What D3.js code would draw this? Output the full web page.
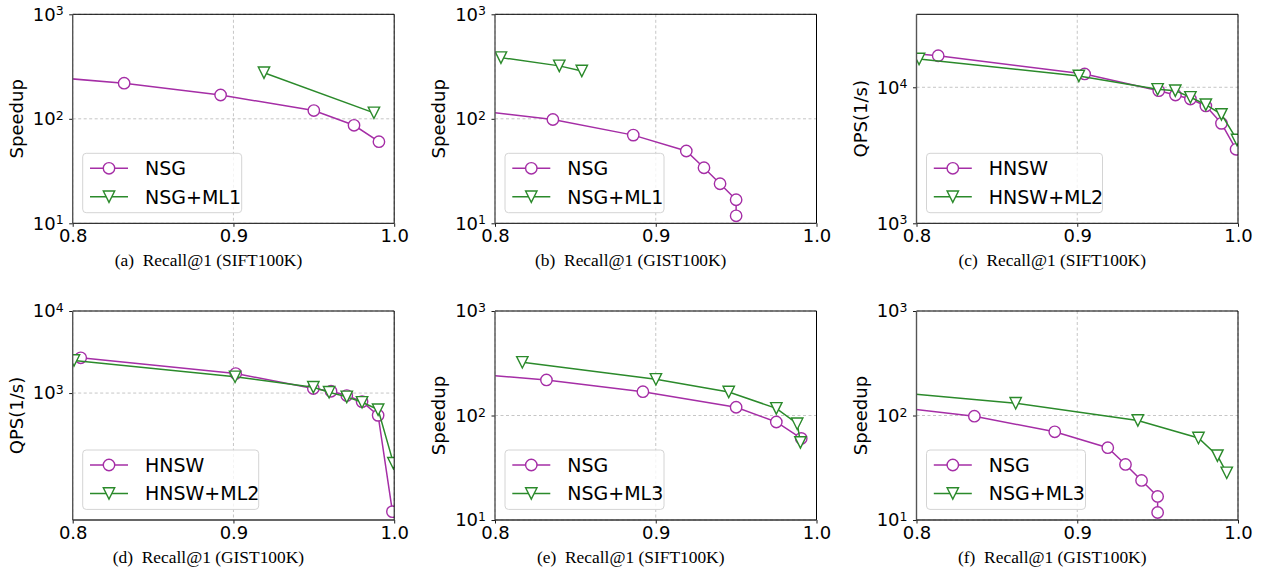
<!DOCTYPE html>
<html>
<head>
<meta charset="utf-8">
<script src="https://cdn.jsdelivr.net/npm/d3@7"></script>
<style>
    body { margin: 0; background: #fff; }
    svg { display: block; }
    .tick text { font-family: "DejaVu Sans", sans-serif; }
</style>
</head>
<body>
<svg id="chart" width="1263" height="574"></svg>
<script>
// x axis is the same everywhere
const recallTicks = [0.8, 0.9, 1.0]

// y ticks
const speedupTicks = [10, 100, 1000]
const qpsTicks = [1000, 10000]

// NSG on SIFT100K, panels (a) and (e)
const nsgSiftRecall = [0.75, 0.832, 0.892, 0.950, 0.975, 0.9905]
const nsgSiftSpeedup = [279, 219, 169, 120, 86.7, 60.4]

// NSG on GIST100K, panels (b) and (f)
const nsgGistRecall = [0.75, 0.836, 0.886, 0.919, 0.930, 0.940, 0.950, 0.950]
const nsgGistSpeedup = [140, 98.5, 69.8, 49.2, 34.0, 23.9, 16.8, 11.8]

// NSG+ML1
const ml1SiftRecall = [0.919, 0.9874]
const ml1SiftSpeedup = [276, 114]
const ml1GistRecall = [0.8037, 0.840, 0.854]
const ml1GistSpeedup = [385, 321, 287]

// HNSW and HNSW+ML2, QPS
const hnswSiftRecall = [0.75, 0.8135, 0.9046, 0.9507, 0.9611, 0.9704, 0.980, 0.9897, 0.9988]
const hnswSiftQps = [20000, 17060, 12540, 9440, 8770, 8200, 7290, 5430, 3500]
const ml2SiftRecall = [0.8016, 0.901, 0.950, 0.961, 0.9704, 0.980, 0.9897, 0.9994]
const ml2SiftQps = [16150, 12110, 9660, 9440, 8440, 7450, 6320, 4100]

const hnswGistRecall = [0.805, 0.9014, 0.9497, 0.9607, 0.9705, 0.980, 0.990, 0.9989]
const hnswGistQps = [2690, 1730, 1135, 1052, 932, 787, 535, 35.9]
const ml2GistRecall = [0.8008, 0.901, 0.9497, 0.9595, 0.9705, 0.980, 0.990, 0.9995]
const ml2GistQps = [2495, 1578, 1178, 1023, 899, 772, 628, 140]

// NSG+ML3
const ml3SiftRecall = [0.817, 0.9001, 0.9454, 0.975, 0.988, 0.990]
const ml3SiftSpeedup = [323, 222, 168, 117, 83.4, 55.3]
const ml3GistRecall = [0.75, 0.8617, 0.9377, 0.9754, 0.9872, 0.993]
const ml3GistSpeedup = [188, 131, 89.6, 60.9, 41.3, 28.3]

const purple = "#a52ea6"
const green = "#2b8a2b"

const zip = (xs, ys) => xs.map((x, i) => [x, ys[i]])

const panels = [
    {tag: "(a)", set: "SIFT100K", ylabel: "Speedup", yDomain: [10, 1000], yTicks: speedupTicks,
        names: ["NSG", "NSG+ML1"], legendWidth: 159,
        series: [zip(nsgSiftRecall, nsgSiftSpeedup), zip(ml1SiftRecall, ml1SiftSpeedup)]},
    {tag: "(b)", set: "GIST100K", ylabel: "Speedup", yDomain: [10, 1000], yTicks: speedupTicks,
        names: ["NSG", "NSG+ML1"], legendWidth: 159,
        series: [zip(nsgGistRecall, nsgGistSpeedup), zip(ml1GistRecall, ml1GistSpeedup)]},
    {tag: "(c)", set: "SIFT100K", ylabel: "QPS(1/s)", yDomain: [1000, 34400], yTicks: qpsTicks,
        names: ["HNSW", "HNSW+ML2"], legendWidth: 176,
        series: [zip(hnswSiftRecall, hnswSiftQps), zip(ml2SiftRecall, ml2SiftQps)]},
    {tag: "(d)", set: "GIST100K", ylabel: "QPS(1/s)", yDomain: [28.4, 10000], yTicks: qpsTicks,
        names: ["HNSW", "HNSW+ML2"], legendWidth: 176,
        series: [zip(hnswGistRecall, hnswGistQps), zip(ml2GistRecall, ml2GistQps)]},
    {tag: "(e)", set: "SIFT100K", ylabel: "Speedup", yDomain: [10, 1000], yTicks: speedupTicks,
        names: ["NSG", "NSG+ML3"], legendWidth: 159,
        series: [zip(nsgSiftRecall, nsgSiftSpeedup), zip(ml3SiftRecall, ml3SiftSpeedup)]},
    {tag: "(f)", set: "GIST100K", ylabel: "Speedup", yDomain: [10, 1000], yTicks: speedupTicks,
        names: ["NSG", "NSG+ML3"], legendWidth: 159,
        series: [zip(nsgGistRecall, nsgGistSpeedup), zip(ml3GistRecall, ml3GistSpeedup)]},
]

const colLeft = [72.7, 495, 916.5]
const rowTop = [14.3, 311]
const plotW = 321.5
const plotH = 209
const markerR = 5.7
const styles = [{color: purple, marker: "circle"}, {color: green, marker: "triangle"}]

const svg = d3.select("#chart")

const drawMarker = (g, kind, color) => {
    if (kind === "circle") {
        g.append("circle").attr("r", markerR)
            .attr("fill", "#fff").attr("stroke", color).attr("stroke-width", 1.4)
    } else {
        const r = markerR
        g.append("path").attr("d", `M${-r},${-r}L${r},${-r}L0,${r}Z`)
            .attr("fill", "#fff").attr("stroke", color).attr("stroke-width", 1.4)
            .attr("stroke-linejoin", "miter")
    }
}

panels.forEach((p, i) => {
    const left = colLeft[i % 3]
    const top = rowTop[Math.floor(i / 3)]

    const x = d3.scaleLinear().domain([0.8, 1.0]).range([0, plotW])
    const y = d3.scaleLog().domain(p.yDomain).range([plotH, 0])

    const g = svg.append("g").attr("transform", `translate(${left},${top})`)

    g.append("clipPath").attr("id", "clip" + i)
        .append("rect").attr("width", plotW).attr("height", plotH)

    // grid
    const grid = g.append("g")
        .attr("stroke", "#b8b8b8").attr("stroke-width", 0.8).attr("stroke-dasharray", "3,2.5")
    grid.selectAll(".gx").data(recallTicks).join("line")
        .attr("x1", d => x(d)).attr("x2", d => x(d)).attr("y1", 0).attr("y2", plotH)
    grid.selectAll(".gy").data(p.yTicks).join("line")
        .attr("y1", d => y(d)).attr("y2", d => y(d)).attr("x1", 0).attr("x2", plotW)

    // series
    const lineGen = d3.line().x(d => x(d[0])).y(d => y(d[1]))
    const plot = g.append("g").attr("clip-path", `url(#clip${i})`)
    p.series.forEach((pts, k) => {
        const st = styles[k]
        plot.append("path").datum(pts)
            .attr("d", lineGen)
            .attr("fill", "none").attr("stroke", st.color).attr("stroke-width", 1.5)
        pts.forEach(d => {
            const m = plot.append("g").attr("transform", `translate(${x(d[0])},${y(d[1])})`)
            drawMarker(m, st.marker, st.color)
        })
    })

    // axes
    const xAxis = g.append("g").attr("transform", `translate(0,${plotH})`)
        .call(d3.axisBottom(x).tickValues(recallTicks).tickFormat(d3.format(".1f"))
            .tickSize(3.5).tickPadding(2.5).tickSizeOuter(0))
    const yAxis = g.append("g")
        .call(d3.axisLeft(y).tickValues(p.yTicks).tickSize(3.5).tickPadding(5.5).tickSizeOuter(0))

    ;[xAxis, yAxis].forEach(a => {
        a.select(".domain").remove()
        a.selectAll(".tick line").attr("stroke", "#000").attr("stroke-width", 0.9)
        a.selectAll(".tick text").attr("font-size", 18).attr("fill", "#000")
    })

    // 10^n labels
    yAxis.selectAll(".tick text").each(function (d) {
        const t = d3.select(this).text("")
        t.append("tspan").text("10")
        t.append("tspan").attr("font-size", 12.5).attr("dy", "-0.42em")
            .text(Math.round(Math.log10(d)))
    })

    // frame
    g.append("line").attr("x1", 0).attr("x2", plotW).attr("y1", 0).attr("y2", 0)
        .attr("stroke", "#000").attr("stroke-width", 1)
    g.append("line").attr("x1", plotW).attr("x2", plotW).attr("y1", 0).attr("y2", plotH)
        .attr("stroke", "#000").attr("stroke-width", 1)
    g.append("line").attr("x1", 0).attr("x2", 0).attr("y1", 0).attr("y2", plotH)
        .attr("stroke", "#555").attr("stroke-width", 1.4)
    g.append("line").attr("x1", 0).attr("x2", plotW).attr("y1", plotH).attr("y2", plotH)
        .attr("stroke", "#333").attr("stroke-width", 1.3)

    // y label
    g.append("text")
        .attr("transform", `translate(-49.7,${plotH / 2}) rotate(-90)`)
        .attr("text-anchor", "middle")
        .attr("font-family", "DejaVu Sans, sans-serif").attr("font-size", 18)
        .text(p.ylabel)

    // legend
    const lg = g.append("g").attr("transform", `translate(10,${plotH - 10.6 - 59.4})`)
    lg.append("rect").attr("width", p.legendWidth).attr("height", 59.4)
        .attr("rx", 3.5).attr("fill", "#fff").attr("fill-opacity", 0.8)
        .attr("stroke", "#d4d4d4").attr("stroke-width", 1)
    p.names.forEach((name, k) => {
        const st = styles[k]
        const row = lg.append("g").attr("transform", `translate(0,${15 + k * 28.4})`)
        row.append("line").attr("x1", 7.3).attr("x2", 45.3)
            .attr("stroke", st.color).attr("stroke-width", 1.5)
        drawMarker(row.append("g").attr("transform", "translate(26.3,0)"), st.marker, st.color)
        row.append("text").attr("x", 62.3).attr("dy", "0.36em")
            .attr("font-family", "DejaVu Sans, sans-serif").attr("font-size", 19)
            .text(name)
    })

    // caption
    g.append("text")
        .attr("x", plotW / 2 - 25).attr("y", plotH + 43)
        .attr("text-anchor", "middle")
        .attr("font-family", "Liberation Serif, serif").attr("font-size", 17.4)
        .style("white-space", "pre")
        .text(`${p.tag}  Recall@1 (${p.set})`)
})
</script>
</body>
</html>
